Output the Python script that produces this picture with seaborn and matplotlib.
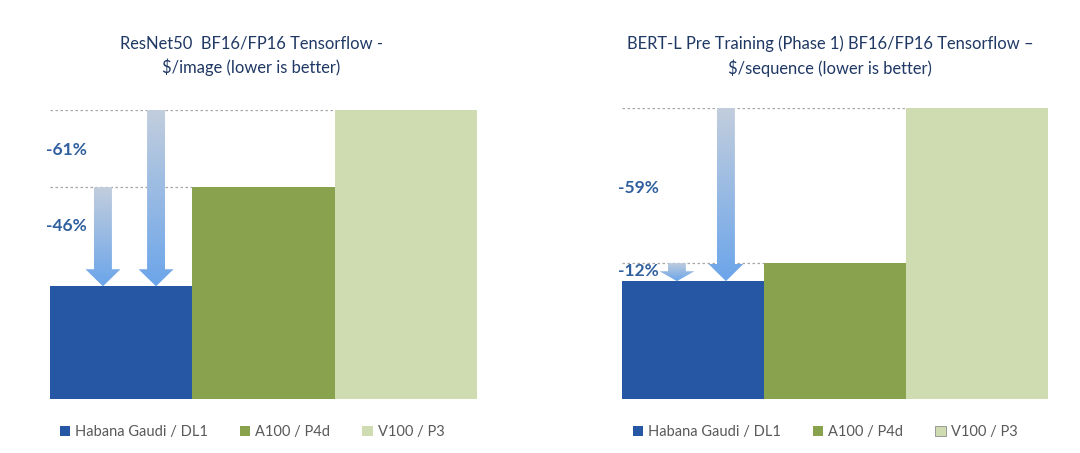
import numpy as np
import matplotlib
matplotlib.use("Agg")
import matplotlib.pyplot as plt
import seaborn as sns
from matplotlib.patches import Patch, Polygon
from matplotlib.colors import LinearSegmentedColormap

# data: relative cost per unit (V100 = 1.0)
gpus = ["Habana Gaudi / DL1", "A100 / P4d", "V100 / P3"]
resnet_cost = [0.39, 0.733, 1.0]
bert_cost = [0.405, 0.467, 1.0]
resnet_labels = ["-61%", "-46%"]
bert_labels = ["-59%", "-12%"]
titles = ["ResNet50  BF16/FP16 Tensorflow -\n$/image (lower is better)",
          "BERT-L Pre Training (Phase 1) BF16/FP16 Tensorflow \u2013\n$/sequence (lower is better)"]

colors = ["#2557a4", "#89a24e", "#cfdbb0"]
label_color = "#2f5f9e"

sns.set_style("white")
plt.rcParams['font.family'] = ['Lato', 'DejaVu Sans']

W, H = 1080, 453
fig = plt.figure(figsize=(W / 100, H / 100), dpi=100)

arrow_cmap = LinearSegmentedColormap.from_list("arr", ["#6ba5ea", "#c3cedd"])


def px_axes(x0, x1, y_top, y_bot):
    return fig.add_axes([x0 / W, 1 - y_bot / H, (x1 - x0) / W, (y_bot - y_top) / H])


def gradient_arrow(ax, x, y_top, y_bot):
    sw, hw = 0.063, 0.123
    hl = min(0.059, 0.55 * (y_top - y_bot))
    verts = [(x - sw, y_top), (x + sw, y_top), (x + sw, y_bot + hl), (x + hw, y_bot + hl),
             (x, y_bot), (x - hw, y_bot + hl), (x - sw, y_bot + hl)]
    poly = Polygon(verts, closed=True, facecolor="none", edgecolor="none", transform=ax.transData)
    ax.add_patch(poly)
    grad = np.linspace(0, 1, 256).reshape(-1, 1)
    im = ax.imshow(grad, cmap=arrow_cmap, origin="lower", aspect="auto",
                   extent=[x - hw, x + hw, y_bot, y_top], zorder=4)
    im.set_clip_path(poly)


def draw_panel(ax, values, labels, arrow_x, label_y):
    sns.barplot(x=gpus, y=values, hue=gpus, palette=colors, width=1.0,
                saturation=1, legend=False, ax=ax, zorder=2, linewidth=0)
    ax.set_xlim(-0.5, 2.5)
    ax.set_ylim(0, 1.0)
    ax.axis("off")
    g, a, v = values
    # reference lines
    ax.plot([-0.5, 1.5], [v, v], ls=(0, (2, 2)), color="#a6a6a6", lw=0.9, zorder=3)
    ax.plot([-0.5, 0.5], [a, a], ls=(0, (2, 2)), color="#a6a6a6", lw=0.9, zorder=3)
    gradient_arrow(ax, arrow_x[0], a, g)
    gradient_arrow(ax, arrow_x[1], v, g)
    ax.text(-0.53, label_y[0], labels[0], color=label_color, fontsize=12.5,
            fontweight="bold", ha="left", va="center", zorder=5)
    ax.text(-0.53, label_y[1], labels[1], color=label_color, fontsize=12.5,
            fontweight="bold", ha="left", va="center", zorder=5)


ax1 = px_axes(50, 477, 110, 399)
draw_panel(ax1, resnet_cost, resnet_labels, [-0.128, 0.245], [0.86, 0.60])

ax2 = px_axes(622, 1048, 108, 399)
draw_panel(ax2, bert_cost, bert_labels, [-0.113, 0.232], [0.725, 0.44])

fig.text(251 / W, 1 - 56 / H, titles[0], ha="center", va="center", fontsize=11.9,
         color="#1f3864", linespacing=1.5)
fig.text(830 / W, 1 - 56 / H, titles[1], ha="center", va="center", fontsize=11.9,
         color="#1f3864", linespacing=1.5)

for cx, edge in [(252, "none"), (825, "#8c8c8c")]:
    handles = [Patch(facecolor=colors[0], edgecolor="none"),
               Patch(facecolor=colors[1], edgecolor="none"),
               Patch(facecolor=colors[2], edgecolor=edge, linewidth=0.6)]
    fig.legend(handles, gpus, loc="center", bbox_to_anchor=(cx / W, 1 - 432 / H),
               ncol=3, frameon=False, handlelength=0.7, handleheight=0.7,
               handletextpad=0.35, columnspacing=2.2, prop={"size": 10.5},
               labelcolor="#595959")

plt.savefig("out.png", dpi=100)
